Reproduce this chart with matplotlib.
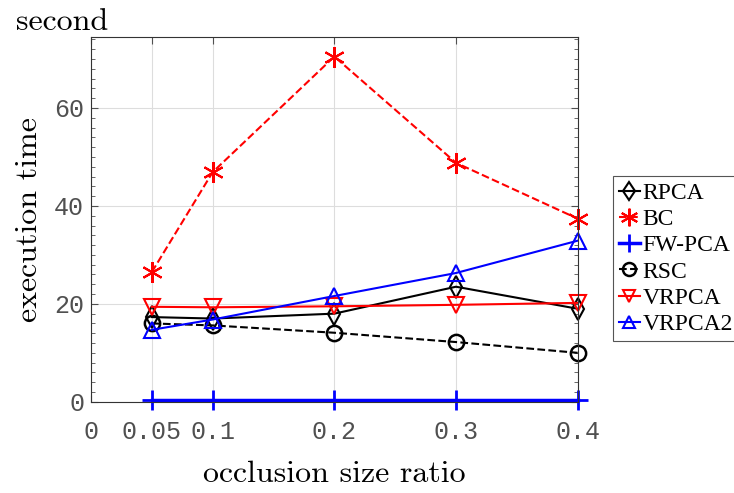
import matplotlib.pyplot as plt
from matplotlib.ticker import MultipleLocator

x = [0.05, 0.1, 0.2, 0.3, 0.4]
rpca = [17.3, 17.0, 18.0, 23.5, 19.0]
bc = [26.5, 46.9, 70.5, 48.8, 37.4]
fwpca = [0.3, 0.3, 0.3, 0.3, 0.3]
rsc = [16.0, 15.6, 14.1, 12.2, 10.0]
vrpca = [19.4, 19.3, 19.5, 19.8, 20.2]
vrpca2 = [14.7, 16.8, 21.6, 26.3, 32.9]

xticks = [0, 0.05, 0.1, 0.2, 0.3, 0.4]
xticklabels = ['0', '0.05', '0.1', '0.2', '0.3', '0.4']
yticks = [0, 20, 40, 60]

fig = plt.figure(figsize=(7.34, 4.93), dpi=100)
ax = fig.add_axes([0.124, 0.185, 0.663, 0.74])

ms = 11
common = dict(clip_on=False, lw=1.5)
ax.plot(x, rpca, '-', color='k', marker='d', ms=ms, mfc='none', mew=1.5, label='RPCA', **common)
ax.plot(x, bc, '--', color='r', marker=(6, 2, 0), ms=ms + 4, mew=1.5, label='BC', **common)
ax.plot(x, fwpca, '-', color='b', marker='+', ms=ms + 4, mew=2.0, label='FW-PCA',
        clip_on=False, lw=2.5)
ax.plot(x, rsc, '--', color='k', marker='o', ms=ms, mfc='none', mew=1.8, label='RSC', **common)
ax.plot(x, vrpca, '-', color='r', marker='v', ms=ms, mfc='none', mew=1.5, label='VRPCA', **common)
ax.plot(x, vrpca2, '-', color='b', marker='^', ms=ms, mfc='none', mew=1.5, label='VRPCA2', **common)

ax.set_xlim(0, 0.4)
ax.set_ylim(0, 74.5)
ax.set_xticks(xticks)
ax.set_xticklabels(xticklabels)
ax.set_yticks(yticks)
ax.yaxis.set_minor_locator(MultipleLocator(2))
ax.grid(True, color='#dddddd', lw=0.8)
ax.set_axisbelow(True)
ax.tick_params(direction='in', which='both', top=True, right=True,
               labelsize=18, colors='#505050', length=5)
ax.tick_params(axis='x', pad=13)
ax.tick_params(axis='y', pad=5)
ax.tick_params(which='minor', length=3)
for lab in ax.get_xticklabels() + ax.get_yticklabels():
    lab.set_fontfamily('Liberation Mono')
for sp in ax.spines.values():
    sp.set_color('#333333')

ax.set_xlabel('occlusion size ratio', fontfamily='cmr10', fontsize=23, labelpad=12)
ax.set_ylabel('execution time', fontfamily='cmr10', fontsize=23, labelpad=8)
fig.text(0.022, 0.94, 'second', fontfamily='cmr10', fontsize=23)

leg = fig.legend(loc='upper left', bbox_to_anchor=(0.835, 0.642),
                 prop={'family': 'Liberation Serif', 'size': 17},
                 handlelength=0.9, handletextpad=0.1, borderpad=0.25,
                 labelspacing=0.2, fancybox=False, framealpha=1,
                 edgecolor='#555555', borderaxespad=0, markerscale=0.85)
leg.get_frame().set_linewidth(0.8)

fig.savefig('out.png', dpi=100)
